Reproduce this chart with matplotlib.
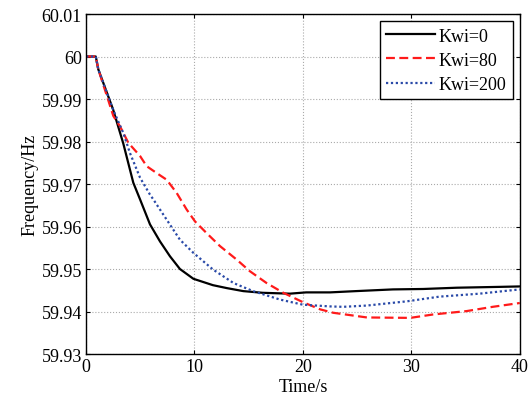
import matplotlib.pyplot as plt
import numpy as np

plt.rcParams['font.family'] = ['Liberation Serif', 'DejaVu Serif']

# Kwi=0
t0 = [0, 0.9, 1.13, 2.5, 3.44, 4.36, 4.98, 5.9, 6.82, 7.74, 8.66, 9.9, 11.7, 13.0,
      14.5, 16.3, 18.8, 20.3, 22.5, 24.9, 28.3, 31.1, 34.2, 38.2, 40]
f0 = [60.0, 60.0, 59.997, 59.9875, 59.9795, 59.9703, 59.9664, 59.9605, 59.9565, 59.9530,
      59.9500, 59.9477, 59.9462, 59.9455, 59.9448, 59.9444, 59.9442, 59.9445, 59.9445,
      59.9448, 59.9452, 59.9453, 59.9456, 59.9458, 59.9459]
# Kwi=80
t80 = [0, 0.9, 1.13, 2.52, 3.13, 3.9, 4.98, 5.59, 6.5, 7.44, 8.36, 9.28, 10.05, 11.1,
       12.35, 13.9, 15.1, 16.65, 18.2, 20.0, 21.6, 22.8, 25.9, 29.9, 32.0, 35.1, 37.5, 40]
f80 = [60.0, 60.0, 59.997, 59.986, 59.9836, 59.9797, 59.9766, 59.9742, 59.9726, 59.971,
       59.9679, 59.964, 59.9612, 59.9585, 59.9554, 59.9522, 59.9495, 59.9467, 59.9444,
       59.9422, 59.9405, 59.9397, 59.9386, 59.9385, 59.9393, 59.9401, 59.9411, 59.942]
# Kwi=200
t200 = [0, 0.9, 1.13, 2.5, 3.44, 4.05, 4.98, 5.9, 6.2, 7.44, 8.66, 9.9, 11.7, 13.6,
        15.4, 17.9, 20.0, 22.5, 23.7, 25.9, 29.6, 32.6, 36.3, 40]
f200 = [60.0, 60.0, 59.997, 59.9875, 59.982, 59.9773, 59.9715, 59.9675, 59.9664, 59.9616,
        59.9569, 59.9538, 59.9499, 59.9467, 59.9448, 59.9428, 59.9416, 59.9412, 59.9411,
        59.9414, 59.9424, 59.9435, 59.9442, 59.9452]

fig = plt.figure(figsize=(5.32, 4.06), dpi=100)
ax = fig.add_axes([0.1617, 0.1256, 0.8153, 0.8374])

ax.plot(t0, f0, color='black', lw=1.6, ls='-', label='Kwi=0')
ax.plot(t80, f80, color='#ff1a1a', lw=1.6, ls=(0, (4, 2)), label='Kwi=80')
ax.plot(t200, f200, color='#2a4aa8', lw=1.6, ls=(0, (1, 1.2)), label='Kwi=200')

ax.set_xlim(0, 40)
ax.set_ylim(59.93, 60.01)
ax.set_xticks([0, 10, 20, 30, 40])
ax.set_yticks(np.arange(59.93, 60.0101, 0.01))
ax.set_yticklabels(['59.93', '59.94', '59.95', '59.96', '59.97', '59.98', '59.99', '60', '60.01'])
ax.grid(True, color='#aaaaaa', ls=':', lw=0.8)
ax.tick_params(direction='in', length=3, labelsize=13, top=True, right=True, width=0.8, pad=3)
for s in ax.spines.values():
    s.set_linewidth(1.0)

ax.set_xlabel('Time/s', fontsize=13, labelpad=2)
ax.set_ylabel('Frequency/Hz', fontsize=13, labelpad=2)

leg = ax.legend(loc='upper right', fontsize=13, fancybox=False, edgecolor='black',
                framealpha=1, handlelength=2.7, borderpad=0.35, labelspacing=0.4,
                handletextpad=0.2, borderaxespad=0.4)
leg.get_frame().set_linewidth(1.0)

plt.savefig('out.png', dpi=100)
